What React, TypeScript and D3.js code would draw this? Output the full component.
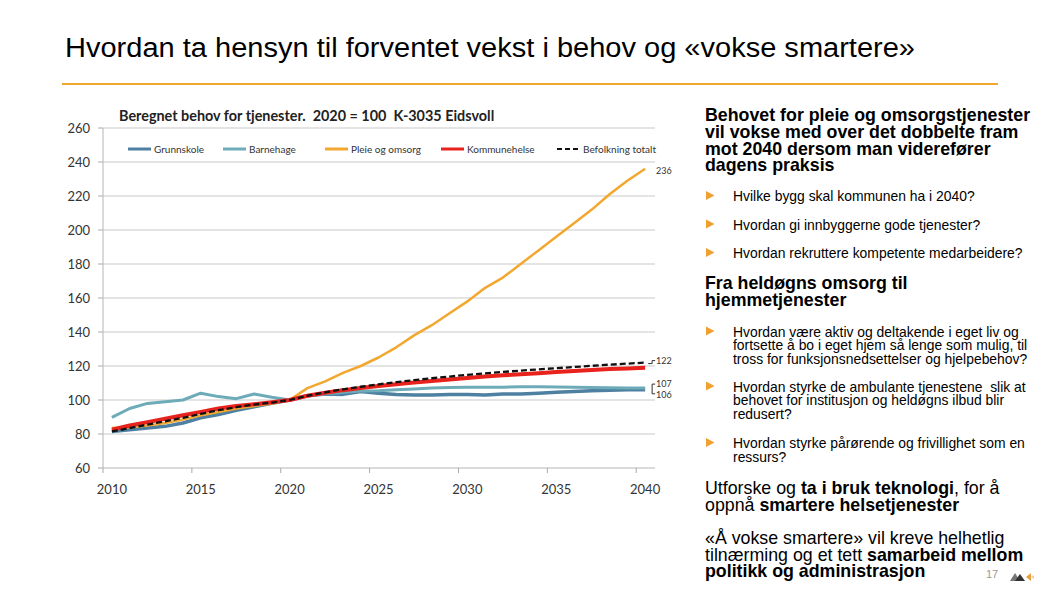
import React from "react";
import * as d3 from "d3";

const years = [2010, 2011, 2012, 2013, 2014, 2015, 2016, 2017, 2018, 2019, 2020, 2021, 2022, 2023, 2024, 2025, 2026, 2027, 2028, 2029, 2030, 2031, 2032, 2033, 2034, 2035, 2036, 2037, 2038, 2039, 2040];

const grunnskole = [81.5, 82.5, 83.5, 84.5, 86.5, 89.5, 91.5, 94, 96, 98, 100, 102.5, 103.5, 103.3, 105, 104, 103.3, 103, 103, 103.3, 103.3, 103, 103.5, 103.5, 104, 104.5, 105, 105.5, 105.7, 106, 106];
const barnehage = [89.8, 95, 98, 99, 100, 104, 102, 100.8, 103.5, 101.6, 100, 102.5, 103.5, 104.5, 105.3, 105.5, 106, 106.5, 107, 107.3, 107.5, 107.5, 107.5, 107.8, 107.8, 107.7, 107.5, 107.3, 107.2, 107, 107];
const pleie = [83.5, 84, 85, 86.5, 88.5, 91, 93, 95, 96.5, 98, 100, 107, 111, 116, 120, 125, 131, 138, 144, 151, 158, 166, 172, 180, 188, 196, 204, 212, 221, 229, 236];
const kommunehelse = [82.5, 85, 87, 89, 91, 93, 95, 96.5, 97.5, 98.7, 100, 102.5, 104.3, 105.8, 107, 108.2, 109.3, 110.3, 111.2, 112.1, 113, 113.8, 114.5, 115.2, 115.8, 116.4, 117, 117.6, 118.2, 118.6, 119];
const befolkning = [81.5, 83.5, 85.5, 87.5, 89.5, 91.8, 94, 95.8, 97.3, 98.5, 100, 102.5, 104.5, 106.3, 107.8, 109.2, 110.5, 111.7, 112.8, 113.8, 114.8, 115.7, 116.5, 117.3, 118, 118.7, 119.4, 120.1, 120.8, 121.4, 122];

const yTicks = [60, 80, 100, 120, 140, 160, 180, 200, 220, 240, 260];
const xTickLabels = [2010, 2015, 2020, 2025, 2030, 2035, 2040];

const seriesNames = ["Grunnskole", "Barnehage", "Pleie og omsorg", "Kommunehelse", "Befolkning totalt"];
const seriesColors = ["#4e80a1", "#6eabb9", "#f2a72e", "#e8231e", "#111111"];
const seriesWidths = [3.5, 3, 2.5, 4, 2.3];

const endLabels = ["236", "122", "107", "106"];

const slideTitle = "Hvordan ta hensyn til forventet vekst i behov og «vokse smartere»";
const chartTitle = "Beregnet behov for tjenester.  2020 = 100  K-3035 Eidsvoll";

const heading1 = ["Behovet for pleie og omsorgstjenester", "vil vokse med over det dobbelte fram", "mot 2040 dersom man viderefører", "dagens praksis"];
const bullets1 = ["Hvilke bygg skal kommunen ha i 2040?", "Hvordan gi innbyggerne gode tjenester?", "Hvordan rekruttere kompetente medarbeidere?"];
const heading2 = ["Fra heldøgns omsorg til", "hjemmetjenester"];
const bullets2 = [
  ["Hvordan være aktiv og deltakende i eget liv og", "fortsette å bo i eget hjem så lenge som mulig, til", "tross for funksjonsnedsettelser og hjelpebehov?"],
  ["Hvordan styrke de ambulante tjenestene  slik at", "behovet for institusjon og heldøgns ilbud blir", "redusert?"],
  ["Hvordan styrke pårørende og frivillighet som en", "ressurs?"],
];

export default function App() {
  const x = d3.scaleLinear().domain([2009.5, 2040.5]).range([103, 654]);
  const y = d3.scaleLinear().domain([60, 260]).range([468, 128]);
  const all = [grunnskole, barnehage, pleie, kommunehelse, befolkning];
  const line = d3.line<number>().x((_, i) => x(years[i])).y((d) => y(d)).curve(d3.curveLinear);
  const chartFont = "Lato, 'Open Sans', sans-serif";
  const slideFont = "'Liberation Sans', Arial, sans-serif";
  const legendX = [128, 223, 325, 441, 557];
  const xBoundaryTicks = [2009.5, 2014.5, 2019.5, 2024.5, 2029.5, 2034.5, 2039.5];
  const bulletColor = "#f0a030";
  const bullet = (bx: number, by: number) => (
    <path d={`M${bx},${by - 10} L${bx + 8.5},${by - 5.5} L${bx},${by - 1} Z`} fill={bulletColor} />
  );
  const endX = x(2040);
  const big = 17.8;
  const small = 13.9;

  return (
    <svg width={1058} height={595} style={{ position: "absolute", left: 0, top: 0, background: "#fff" }}>
      <rect x={0} y={0} width={1058} height={595} fill="#fff" />
      {/* Slide title */}
      <text x={65} y={57} fontFamily={slideFont} fontSize={27} fill="#000" textLength={850} lengthAdjust="spacingAndGlyphs">
        {slideTitle}
      </text>
      <line x1={62} x2={998} y1={84} y2={84} stroke="#f0a830" strokeWidth={2} />

      {/* Chart */}
      <text x={119} y={121} fontFamily={chartFont} fontSize={14.4} fontWeight="bold" fill="#222" xmlSpace="preserve" style={{ whiteSpace: "pre" }}>
        {chartTitle}
      </text>
      {yTicks.map((t) => (
        <g key={t}>
          {t > 60 && <line x1={103} x2={655} y1={y(t)} y2={y(t)} stroke="#c9c9c9" strokeWidth={1} />}
          <line x1={98} x2={103} y1={y(t)} y2={y(t)} stroke="#aaa" strokeWidth={1} />
          <text x={90} y={y(t) + 4.5} textAnchor="end" fontFamily={chartFont} fontSize={13} fill="#333">
            {t}
          </text>
        </g>
      ))}
      <line x1={103} x2={103} y1={128} y2={468} stroke="#b5b5b5" strokeWidth={1} />
      <line x1={103} x2={655} y1={468} y2={468} stroke="#b5b5b5" strokeWidth={1} />
      {xBoundaryTicks.map((t) => (
        <line key={t} x1={x(t)} x2={x(t)} y1={468} y2={473} stroke="#aaa" strokeWidth={1} />
      ))}
      {xTickLabels.map((t) => (
        <text key={t} x={x(t)} y={494} textAnchor="middle" fontFamily={chartFont} fontSize={13} fill="#333">
          {t}
        </text>
      ))}

      {/* Legend */}
      {seriesNames.map((n, i) => (
        <g key={n}>
          <line
            x1={legendX[i]}
            x2={legendX[i] + 23}
            y1={149}
            y2={149}
            stroke={seriesColors[i]}
            strokeWidth={i === 4 ? 1.8 : 3}
            strokeDasharray={i === 4 ? "5,3" : undefined}
          />
          <text x={legendX[i] + 26} y={152.5} fontFamily={chartFont} fontSize={10} fill="#333">
            {n}
          </text>
        </g>
      ))}

      {/* Lines */}
      {all.map((s, i) => (
        <path
          key={i}
          d={line(s) || ""}
          fill="none"
          stroke={seriesColors[i]}
          strokeWidth={seriesWidths[i]}
          strokeDasharray={i === 4 ? "6,3" : undefined}
          strokeLinejoin="round"
        />
      ))}

      {/* End labels */}
      <text x={656} y={174} fontFamily={chartFont} fontSize={9} fill="#333">{endLabels[0]}</text>
      <path d={`M${endX + 3},${y(122) + 1} L${endX + 7},${y(122) + 1} L${endX + 7},${y(122) - 2} L${endX + 10},${y(122) - 2}`} fill="none" stroke="#333" strokeWidth={1} />
      <text x={656} y={y(122) + 1} fontFamily={chartFont} fontSize={9} fill="#333">{endLabels[1]}</text>
      <path d={`M${endX + 10},${y(107) - 4} L${endX + 7},${y(107) - 4} L${endX + 7},${y(106) + 4} L${endX + 10},${y(106) + 4}`} fill="none" stroke="#333" strokeWidth={1} />
      <text x={656} y={y(107) - 1} fontFamily={chartFont} fontSize={9} fill="#333">{endLabels[2]}</text>
      <text x={656} y={y(106) + 8} fontFamily={chartFont} fontSize={9} fill="#333">{endLabels[3]}</text>

      {/* Right panel */}
      <g fontFamily={slideFont} fill="#000">
        {heading1.map((t, i) => (
          <text key={t} x={705} y={121 + i * 16.8} fontSize={big} fontWeight="bold">{t}</text>
        ))}
        {bullets1.map((t, i) => (
          <g key={t}>
            {bullet(706, 201 + i * 28.5)}
            <text x={733} y={201 + i * 28.5} fontSize={small}>{t}</text>
          </g>
        ))}
        {heading2.map((t, i) => (
          <text key={t} x={705} y={289 + i * 16.5} fontSize={big} fontWeight="bold">{t}</text>
        ))}
        {bullets2.map((b, j) => {
          const by = [336.5, 391.5, 448][j];
          return (
            <g key={j}>
              {bullet(706, by)}
              {b.map((t, i) => (
                <text key={t} x={733} y={by + i * 13.6} fontSize={small} xmlSpace="preserve" style={{ whiteSpace: "pre" }}>{t}</text>
              ))}
            </g>
          );
        })}
        <text x={705} y={494} fontSize={big}>
          Utforske og <tspan fontWeight="bold">ta i bruk teknologi</tspan>, for å
        </text>
        <text x={705} y={510.5} fontSize={big}>
          oppnå <tspan fontWeight="bold">smartere helsetjenester</tspan>
        </text>
        <text x={705} y={544} fontSize={big}>«Å vokse smartere» vil kreve helhetlig</text>
        <text x={705} y={560.5} fontSize={big}>
          tilnærming og et tett <tspan fontWeight="bold">samarbeid mellom</tspan>
        </text>
        <text x={705} y={577} fontSize={big} fontWeight="bold">politikk og administrasjon</text>
      </g>
      <text x={986} y={578} fontFamily={slideFont} fontSize={11} fill="#999">17</text>
      <g>
        <path d="M1010,581 L1015,573 L1020,581 Z" fill="#777" />
        <path d="M1015,581 L1020,574 L1025,581 Z" fill="#333" />
        <path d="M1026,577 L1031,573 L1031,581 Z" fill="#e8a040" />
        <path d="M1031,577 L1034,575 L1034,579 Z" fill="#f3cf90" />
      </g>
    </svg>
  );
}
